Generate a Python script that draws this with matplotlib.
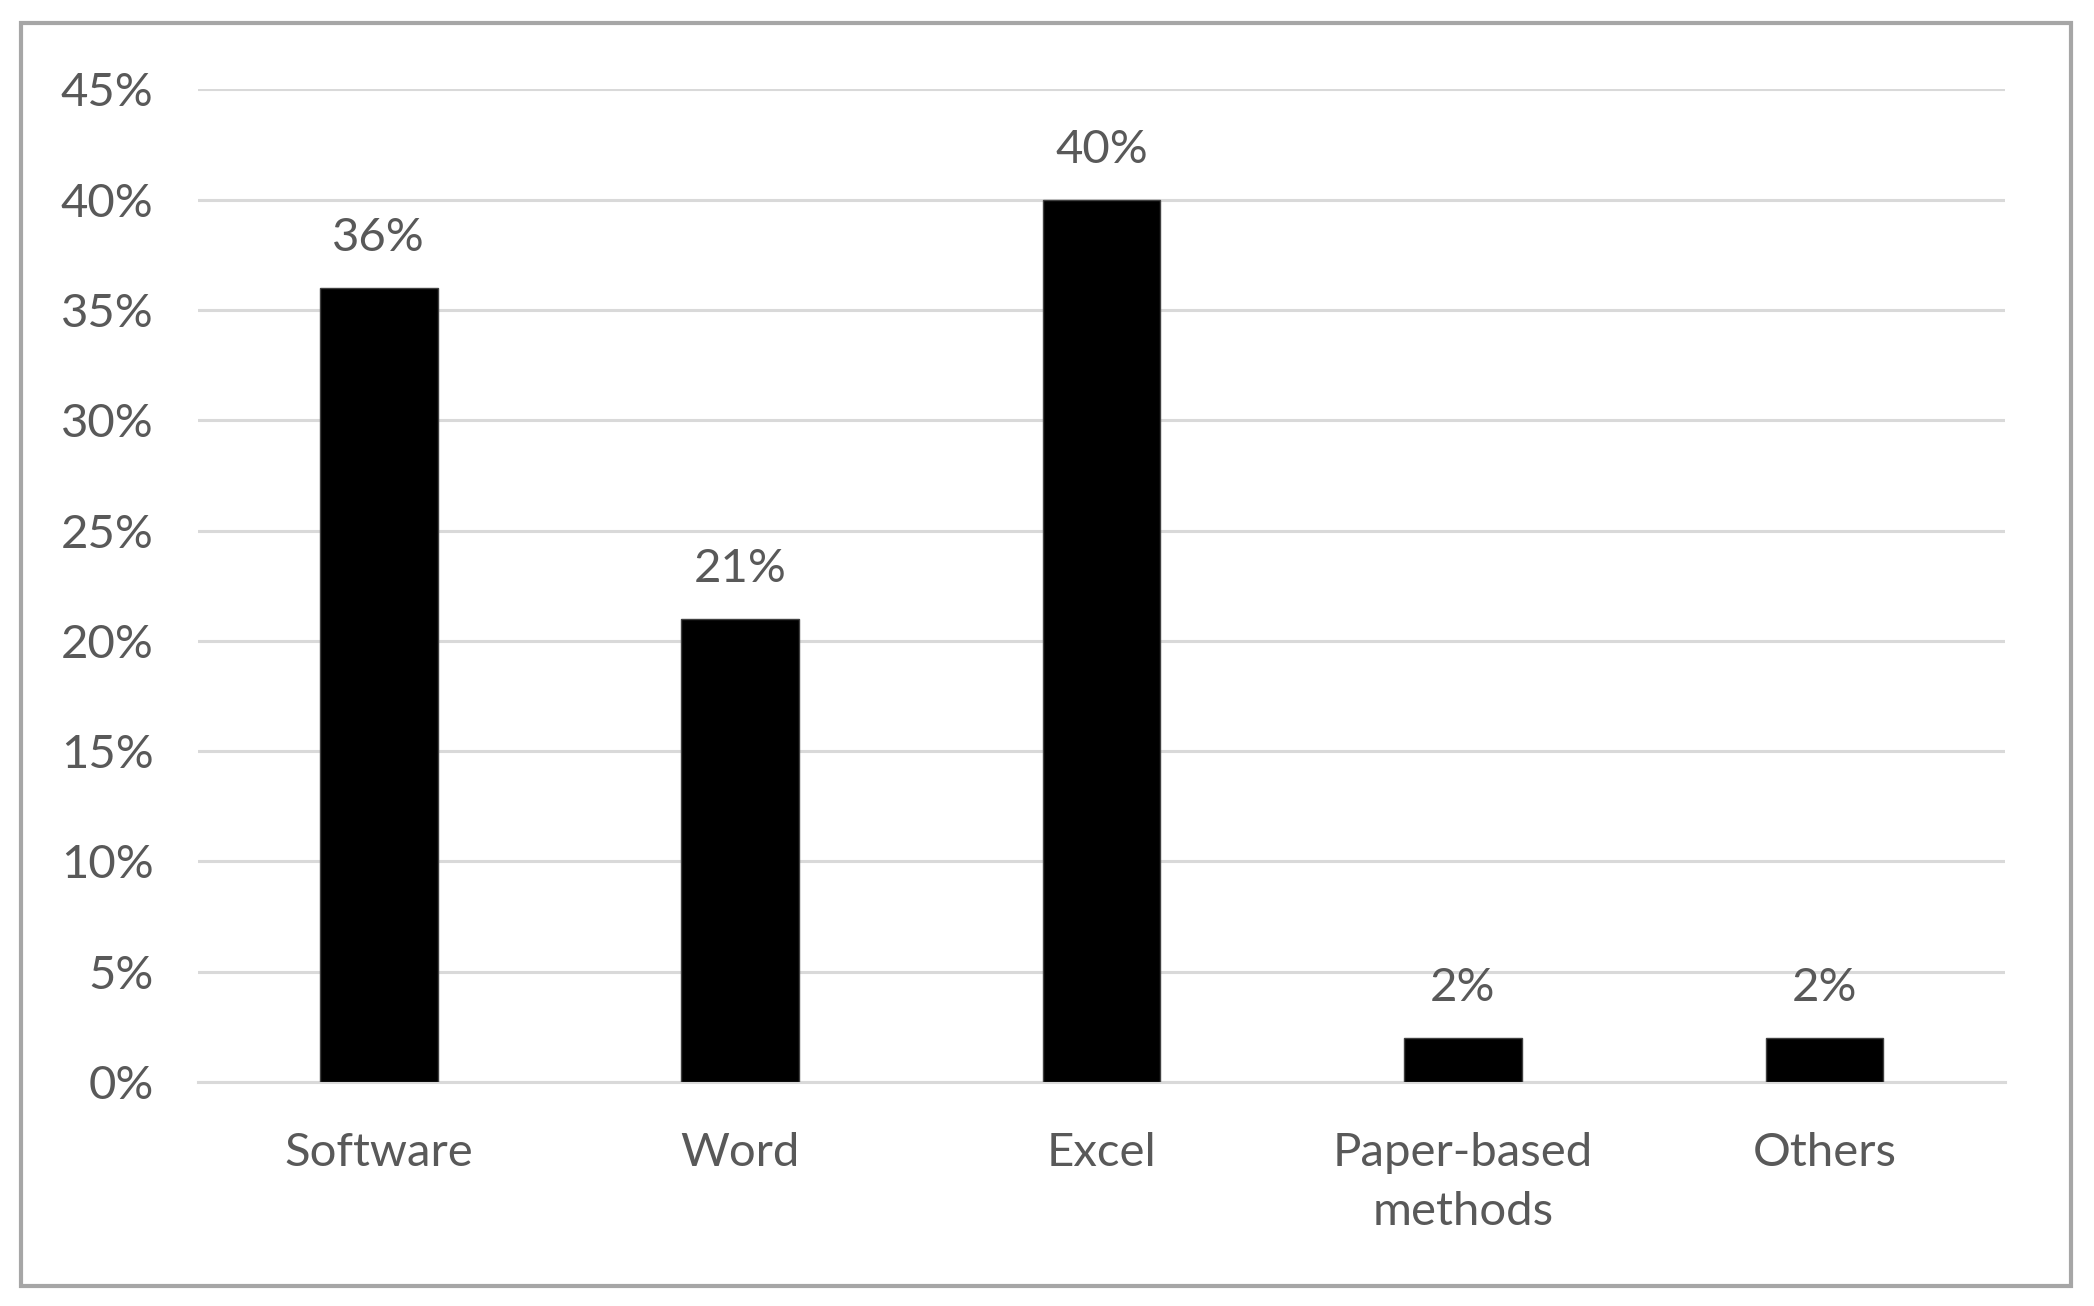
import matplotlib
matplotlib.use("Agg")
import matplotlib.pyplot as plt
from matplotlib.patches import Rectangle
from matplotlib.ticker import FuncFormatter

categories = ["Software", "Word", "Excel", "Paper-based\nmethods", "Others"]
shares = [0.36, 0.21, 0.40, 0.02, 0.02]
labels = ["36%", "21%", "40%", "2%", "2%"]
yticks = [0.0, 0.05, 0.10, 0.15, 0.20, 0.25, 0.30, 0.35, 0.40, 0.45]

plt.rcParams['font.family'] = ['Lato', 'DejaVu Sans']
text_col = "#595959"

fig = plt.figure(figsize=(20.94, 13.06), dpi=100)
ax = fig.add_axes([0.0946, 0.1715, 0.8629, 0.76])

x = range(len(categories))
bars = ax.bar(x, shares, width=0.325, color="black", edgecolor="#404040",
              linewidth=1.0, zorder=3)

for b, lab in zip(bars, labels):
    ax.annotate(lab, (b.get_x() + b.get_width() / 2, b.get_height()),
                xytext=(0, 21), textcoords="offset points",
                ha="center", va="bottom", fontsize=34, color=text_col)

ax.set_xlim(-0.5, 4.5)
ax.set_ylim(0, 0.45)
ax.set_yticks(yticks)
ax.yaxis.set_major_formatter(FuncFormatter(lambda v, p: "%d%%" % round(v * 100)))
ax.set_xticks(list(x))
ax.set_xticklabels(categories, linespacing=1.5)

ax.tick_params(axis="both", length=0, labelsize=34, labelcolor=text_col)
ax.tick_params(axis="y", pad=32)
ax.tick_params(axis="x", pad=36)

ax.grid(axis="y", color="#d9d9d9", linewidth=2.2, zorder=0)
for s in ["top", "right", "left"]:
    ax.spines[s].set_visible(False)
ax.spines["bottom"].set_color("#d9d9d9")
ax.spines["bottom"].set_linewidth(2.2)

# outer frame round the chart
fig.patches.append(Rectangle((0.0100, 0.0153), 0.979, 0.967, transform=fig.transFigure,
                             fill=False, edgecolor="#a6a6a6", linewidth=3))

fig.savefig("out.png", dpi=100)
